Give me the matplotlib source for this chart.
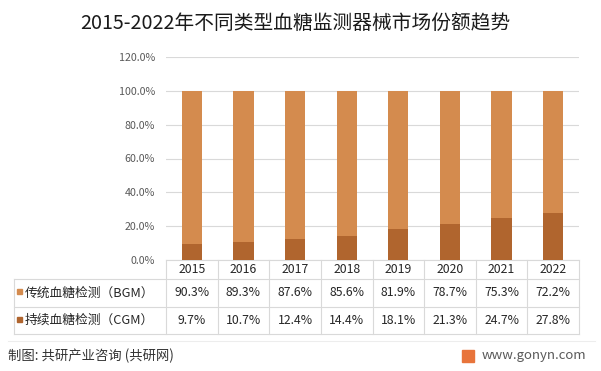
import matplotlib
matplotlib.use('Agg')
import matplotlib.pyplot as plt
from matplotlib.transforms import blended_transform_factory
from matplotlib.patches import Rectangle

plt.rcParams['font.family'] = ['Noto Sans CJK SC', 'DejaVu Sans']

years = ['2015', '2016', '2017', '2018', '2019', '2020', '2021', '2022']
bgm = [90.3, 89.3, 87.6, 85.6, 81.9, 78.7, 75.3, 72.2]
cgm = [9.7, 10.7, 12.4, 14.4, 18.1, 21.3, 24.7, 27.8]
series_names = ['传统血糖检测（BGM）', '持续血糖检测（CGM）']
yticks = [0, 20, 40, 60, 80, 100, 120]

c_bgm = '#D48B4E'
c_cgm = '#B0652E'
grid_c = '#D9D9D9'
text_c = '#333333'

W, H = 601, 371
fig = plt.figure(figsize=(W / 100, H / 100), dpi=100)


def fx(px):
    return px / W


def fy(py):
    return 1 - py / H


ax = fig.add_axes([fx(166), fy(260), fx(579) - fx(166), fy(57) - fy(260)])
x = list(range(len(years)))
ax.bar(x, cgm, width=0.39, color=c_cgm, zorder=3)
ax.bar(x, bgm, width=0.39, bottom=cgm, color=c_bgm, zorder=3)
ax.set_xlim(-0.5, len(years) - 0.5)
ax.set_ylim(0, 120)
ax.set_yticks(yticks)
ax.set_yticklabels([f'{v:.1f}%' for v in yticks], fontsize=7.7, color='#595959')
ax.set_xticks([])
ax.tick_params(axis='y', length=0, pad=8)
ax.grid(axis='y', color=grid_c, linewidth=0.8, zorder=0)
for s in ['top', 'right', 'left']:
    ax.spines[s].set_visible(False)
ax.spines['bottom'].set_color(grid_c)

# data table below the plot
tr = blended_transform_factory(ax.transData, fig.transFigure)
row_y = [260, 279, 307, 334]
for i in range(len(years) + 1):
    fig.add_artist(plt.Line2D([i - 0.5, i - 0.5], [fy(260), fy(334)],
                              transform=tr, color=grid_c, lw=0.8))
for ry in row_y[1:]:
    fig.add_artist(plt.Line2D([fx(14), fx(579)], [fy(ry), fy(ry)],
                              color=grid_c, lw=0.8))
fig.add_artist(plt.Line2D([fx(14), fx(14)], [fy(279), fy(334)],
                          color=grid_c, lw=0.8))

for i, yr in enumerate(years):
    fig.text(i, fy(269.5), yr, transform=tr, ha='center', va='center',
             fontsize=8.8, color='#262626')
    fig.text(i, fy(293), f'{bgm[i]:.1f}%', transform=tr, ha='center',
             va='center', fontsize=8.8, color='#262626')
    fig.text(i, fy(320.5), f'{cgm[i]:.1f}%', transform=tr, ha='center',
             va='center', fontsize=8.8, color='#262626')

for name, col, cy in [(series_names[0], c_bgm, 293), (series_names[1], c_cgm, 320.5)]:
    fig.add_artist(Rectangle((fx(17), fy(cy + 1)), fx(5), fy(0) - fy(5),
                             transform=fig.transFigure, color=col))
    fig.text(fx(25), fy(cy), name, ha='left', va='center', fontsize=9.2,
             color='#262626')

# separator and footer
fig.add_artist(plt.Line2D([fx(8), fx(595)], [fy(341), fy(341)],
                          color='#EDEDED', lw=0.8))
fig.text(fx(8), fy(356), '制图: 共研产业咨询 (共研网)', ha='left', va='center',
         fontsize=9.6, color=text_c)
fig.add_artist(Rectangle((fx(462), fy(362)), fx(12), fy(0) - fy(12),
                         transform=fig.transFigure, color='#E8743B'))
fig.text(fx(482), fy(356), 'www.gonyn.com', ha='left', va='center',
         fontsize=9.5, color='#595959')

fig.text(fx(295), fy(23), '2015-2022年不同类型血糖监测器械市场份额趋势',
         ha='center', va='center', fontsize=14.2, color='#1a1a1a')

fig.savefig('out.png', dpi=100)
